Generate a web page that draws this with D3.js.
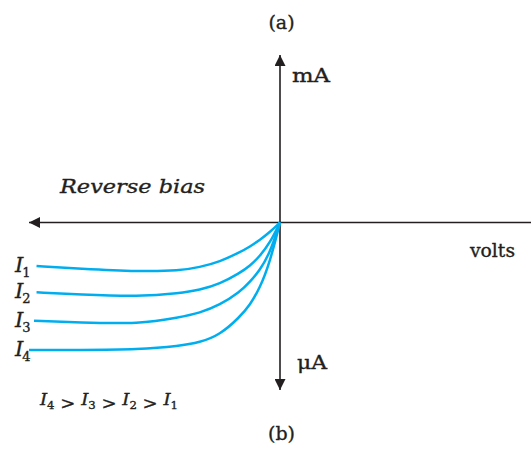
<!DOCTYPE html>
<html>
<head>
<meta charset="utf-8">
<script src="https://cdn.jsdelivr.net/npm/d3@7"></script>
<style>
  body { margin: 0; background: #fff; }
  text { font-family: "DejaVu Serif", serif; fill: #231f20; stroke: #231f20; stroke-width: 0.35px; }
</style>
</head>
<body>
<div class="chart"></div>
<script>
// values (volts: arbitrary units, current: arbitrary units)
const volts = [-9.7, -8, -5.6, -4, -3.2, -2.4, -1.6, -1.2, -0.8, -0.4, 0];
const startVolts = [-9.7, -9.7, -9.8, -10];
const current1 = [-2.60, -2.75, -2.93, -2.88, -2.67, -2.34, -1.78, -1.44, -1.04, -0.57, 0];
const current2 = [-4.17, -4.30, -4.43, -4.23, -4.03, -3.67, -3.01, -2.60, -2.00, -1.22, 0];
const current3 = [-5.86, -5.97, -6.06, -5.66, -5.40, -4.93, -4.15, -3.55, -2.84, -1.82, 0];
const current4 = [-7.61, -7.61, -7.58, -7.37, -7.16, -6.72, -5.64, -4.93, -3.91, -2.36, 0];
const seriesNames = ["1", "2", "3", "4"];

const width = 531, height = 450;
const svg = d3.select(".chart").append("svg")
    .attr("width", width)
    .attr("height", height);

// scales: origin sits where the two axes cross
const xScale = d3.scaleLinear().domain([-10, 10]).range([29, 531]);
const yScale = d3.scaleLinear().domain([-10, 10]).range([390, 55]);

// arrow heads
const defs = svg.append("defs");
defs.append("marker")
    .attr("id", "arrow")
    .attr("viewBox", "0 0 10 10")
    .attr("refX", 10).attr("refY", 5)
    .attr("markerUnits", "userSpaceOnUse")
    .attr("markerWidth", 11).attr("markerHeight", 11)
    .attr("orient", "auto")
  .append("path")
    .attr("d", "M0,0L10,5L0,10Z")
    .attr("fill", "#231f20");

// axes
svg.append("line")
    .attr("x1", xScale(10)).attr("y1", yScale(0))
    .attr("x2", xScale(-10)).attr("y2", yScale(0))
    .attr("stroke", "#231f20").attr("stroke-width", 1.6)
    .attr("marker-end", "url(#arrow)");
svg.append("line")
    .attr("x1", xScale(0)).attr("y1", yScale(0))
    .attr("x2", xScale(0)).attr("y2", yScale(10))
    .attr("stroke", "#231f20").attr("stroke-width", 1.6)
    .attr("marker-end", "url(#arrow)");
svg.append("line")
    .attr("x1", xScale(0)).attr("y1", yScale(0))
    .attr("x2", xScale(0)).attr("y2", yScale(-10))
    .attr("stroke", "#231f20").attr("stroke-width", 1.6)
    .attr("marker-end", "url(#arrow)");

// curves
const currents = [current1, current2, current3, current4];
const series = currents.map((c, k) => c.map((v, i) => ({
    v: i === 0 ? startVolts[k] : volts[i],
    i: v
})));
const line = d3.line()
    .x(d => xScale(d.v))
    .y(d => yScale(d.i))
    .curve(d3.curveBasis);
svg.selectAll(".curve").data(series).enter()
    .append("path")
    .attr("class", "curve")
    .attr("d", line)
    .attr("fill", "none")
    .attr("stroke", "#00aeef")
    .attr("stroke-width", 2.5);

// curve labels I1..I4
const labels = svg.selectAll(".ilabel").data(series).enter()
    .append("text")
    .attr("class", "ilabel")
    .attr("x", 15)
    .attr("y", d => yScale(d[0].i) + 6)
    .attr("font-size", 21);
labels.append("tspan")
    .style("font-style", "italic")
    .text("I");
labels.append("tspan")
    .attr("font-size", 13)
    .attr("dx", -1)
    .attr("dy", 5)
    .text((d, k) => seriesNames[k]);

// axis names and captions
svg.append("text").attr("x", xScale(0) + 1.5).attr("y", 29)
    .attr("text-anchor", "middle").attr("font-size", 19).text("(a)");
svg.append("text").attr("x", xScale(0) + 1.5).attr("y", 440)
    .attr("text-anchor", "middle").attr("font-size", 19).text("(b)");
svg.append("text").attr("x", 292).attr("y", 82)
    .attr("font-size", 18).attr("textLength", 38)
    .attr("lengthAdjust", "spacingAndGlyphs").text("mA");
svg.append("text").attr("x", 297).attr("y", 369)
    .attr("font-size", 18).attr("textLength", 30)
    .attr("lengthAdjust", "spacingAndGlyphs").text("\u03bcA");
svg.append("text").attr("x", 470).attr("y", 257)
    .attr("font-size", 18).attr("textLength", 45)
    .attr("lengthAdjust", "spacingAndGlyphs").text("volts");
svg.append("text").attr("x", 60).attr("y", 193)
    .attr("font-size", 19).style("font-style", "italic")
    .attr("textLength", 145)
    .attr("lengthAdjust", "spacingAndGlyphs").text("Reverse bias");

// ordering of intensities
const order = ["4", "3", "2", "1"];
const ineq = svg.append("text")
    .attr("x", 40).attr("y", 405)
    .attr("font-size", 17)
    .attr("textLength", 138)
    .attr("lengthAdjust", "spacingAndGlyphs");
order.forEach((n, k) => {
    ineq.append("tspan").attr("dy", k === 0 ? 0 : -3.5)
        .style("font-style", "italic").text("I");
    ineq.append("tspan").attr("font-size", 11).attr("dy", 3.5).text(n);
    if (k < order.length - 1) ineq.append("tspan").text(" > ");
});
</script>
</body>
</html>
